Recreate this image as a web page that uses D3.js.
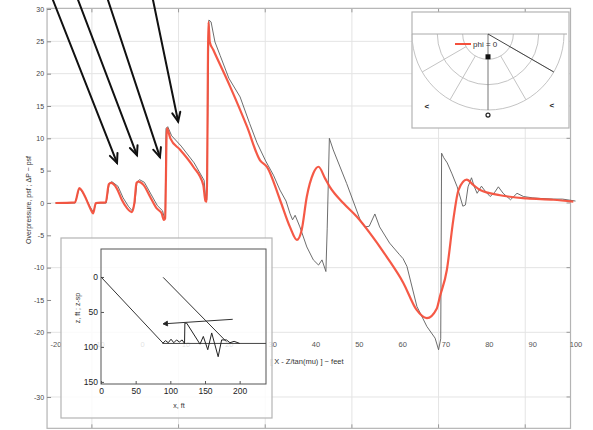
<!DOCTYPE html>
<html><head><meta charset="utf-8">
<script src="https://cdn.jsdelivr.net/npm/d3@7"></script>
<style>body{margin:0;background:#fff;} svg{display:block;font-family:"Liberation Sans",Arial,sans-serif;}</style>
</head><body><svg id="c" width="593" height="430"></svg>
<script>
// ---------------- data (main chart) ----------------
const redX = [-20,-15.5,-14.5,-13.2,-12.0,-11.3,-10.7,-8.4,-7.7,-7.2,-5.9,-4.7,-3.5,-2.4,-1.8,-1.3,-0.9,0.3,1.8,3.3,4.5,5.0,5.3,5.7,6.5,8.8,11.8,14.1,14.6,14.9,15.3,15.6,16.4,20.3,24.2,27.2,28.8,31.8,34.1,35.7,36.8,38.0,39.5,40.7,42.2,43.3,46.4,49.5,52.6,56.4,60.3,63.3,65.7,68.0,68.7,70.3,71.8,73.0,74.9,76.4,78.0,82.6,88.8,94.9,99.5];
const redY = [0,0.1,2.3,1.0,-0.8,-1.6,0,0.1,2.9,3.1,2.3,0.5,-0.8,-1.4,0,3.1,3.3,2.8,1.0,-0.8,-1.6,-2.6,-2.4,11.6,10.0,8.2,5.6,2.8,0.3,0.2,28.0,24.9,23.7,18.0,11.8,6.6,5.6,0.5,-3.7,-5.7,-4.2,1.0,4.6,5.6,3.8,2.5,0,-2.1,-4.7,-8.3,-12.4,-16.5,-17.8,-16.3,-14.5,-10.4,-2.6,2.0,3.6,2.8,2.0,1.2,0.7,0.5,0.2];

const greyX = [-20,-15.5,-14.5,-13.3,-12.1,-11.3,-10.6,-8.3,-7.6,-7.0,-5.6,-4.4,-3.2,-2.3,-1.7,-1.2,-0.6,0.5,2.0,3.5,4.7,5.0,5.3,5.5,5.9,6.8,9.0,12.0,14.3,14.6,14.9,15.4,15.9,16.8,18.0,20.0,22.6,24.8,26.5,28.5,30.3,31.8,33.2,34.1,34.7,35.3,36.4,38.0,39.5,40.7,41.5,42.4,42.7,43.2,44.1,47.2,50.3,51.4,52.4,53.7,54.8,57.1,59.4,60.2,61.1,63.4,65.7,67.6,68.4,68.9,69.1,69.6,70.4,71.5,72.7,74.0,74.6,75.2,76.0,76.6,77.3,78.3,79.2,80.3,81.3,82.2,83.3,85.0,86.5,88.0,90.0,92.0,95.0,97.0,100.0];
const greyY = [0,0,2.3,1.2,-0.5,-1.4,0,0,3.0,3.3,2.6,0.8,-0.5,-1.2,0,3.2,3.6,3.2,1.4,-0.4,-1.2,-2.0,-2.4,11.5,11.8,10.4,8.8,6.2,3.5,1.0,0.5,28.3,28.0,24.9,22.8,19.3,16.4,12.3,9.3,6.5,4.3,2.0,0.3,-1.6,-2.6,-1.9,-3.7,-6.8,-8.8,-9.6,-8.8,-10.6,-4.0,10.0,8.2,3.0,-2.6,-3.7,-3.6,-1.7,-3.7,-6.2,-8.0,-8.6,-9.8,-16.0,-19.1,-20.9,-22.7,-21.0,7.7,7.0,6.2,4.5,2.5,-0.5,-0.3,2.5,3.9,2.6,1.5,2.6,1.8,1.0,1.6,2.5,1.5,0.5,1.5,1.0,0.8,0.7,0.6,0.6,0.3];

const xTicks = [-20,-10,0,10,20,30,40,50,60,70,80,90,100];
const yTicks = [30,25,20,15,10,5,0,-5,-10,-15,-20,-30];
const gridX = [-11.6,8.4,28.4,48.4,68.4,88.4];
const gridY = [25,20,15,10,0,-10,-20,-30];
const frameX = [-21.95,98.85];
const frameY = [30.1,-34.85];

// annotation arrows (data units)
const arrowTailX = [-20.6,-14.8,-7.9,2.5];
const arrowTailY = [31.4,31.4,31.4,31.4];
const arrowTipX = [-5.8,-1.2,4.1,8.3];
const arrowTipY = [6.2,7.4,7.1,12.6];

// ---------------- data (lower-left inset) ----------------
const insetXTicks = [0,50,100,150,200];
const insetZTicks = [0,50,100,150];
const lineAX = [0,89.6], lineAZ = [0,94.7];
const lineBX = [89.6,180.8], lineBZ = [0.5,92.4];
const lineCX = [89.6,190], lineCZ = [67,60.5];
const baseX = [89,238], baseZ = [95,95];
const wigX = [89,93,97,101,105,109,113,117,120.5,121,123.6,142.8,147.6,154,159.7,169,174,181,186,192,200];
const wigZ = [95,91,94,89,94,90,93,90,95,66,66,96,85,104,80,114,90,90,94,92,95];

// ---------------- data (polar inset) ----------------
const rings = [1,2,3];
const spokes = [30,60,90,120,150];
const markAng = [90,90,130.3,48.4];
const markR = [0.9,3.2,3.73,3.8];
const markSym = ["square","circle","<","<"];

// ---------------- drawing ----------------
const svg = d3.select("#c");
const x = d3.scaleLinear().domain([-20,100]).range([55.5,575.5]);
const y = d3.scaleLinear().domain([30,-35]).range([9,429.3]);
const X0 = x(frameX[0]), X1 = x(frameX[1]), Y0 = y(frameY[0]), Y1 = y(frameY[1]);

const grid = svg.append("g");
grid.selectAll(".gx").data(gridX).join("line")
  .attr("x1", d=>x(d)).attr("x2", d=>x(d)).attr("y1", Y0).attr("y2", Y1)
  .attr("stroke", "#e4e4e4").attr("stroke-width", 1);
grid.selectAll(".gy").data(gridY).join("line")
  .attr("y1", d=>y(d)).attr("y2", d=>y(d)).attr("x1", X0).attr("x2", X1)
  .attr("stroke", "#e4e4e4").attr("stroke-width", 1);

// inward ticks on right, top, bottom
grid.selectAll(".tr").data([10,0,-10,-20,-30]).join("line")
  .attr("x1", X1).attr("x2", X1-4).attr("y1", d=>y(d)).attr("y2", d=>y(d)).attr("stroke","#999");
grid.selectAll(".tt").data(gridX).join("line")
  .attr("x1", d=>x(d)).attr("x2", d=>x(d)).attr("y1", Y0).attr("y2", Y0+4).attr("stroke","#999");
grid.selectAll(".tb").data(gridX).join("line")
  .attr("x1", d=>x(d)).attr("x2", d=>x(d)).attr("y1", Y1).attr("y2", Y1-4).attr("stroke","#999");

svg.append("rect").attr("x", X0).attr("y", Y0).attr("width", X1-X0).attr("height", Y1-Y0)
  .attr("fill","none").attr("stroke","#b4b4b4").attr("stroke-width",1.2);

// y axis
const ya = svg.append("g").attr("transform", `translate(${X0},0)`)
  .call(d3.axisLeft(y).tickValues(yTicks).tickSize(-4).tickPadding(3).tickFormat(d=>String(d)));
ya.select(".domain").remove();
ya.selectAll("line").attr("stroke","#888");
ya.selectAll("text").attr("font-size",7).attr("fill","#444");

// x axis labels (floating row)
const xa = svg.append("g").attr("transform", "translate(0,339)")
  .call(d3.axisBottom(x).tickValues(xTicks).tickSize(0).tickPadding(3).tickFormat(d=>String(d)));
xa.select(".domain").remove();
xa.selectAll("text").attr("font-size",7.5).attr("fill","#555");

svg.append("text").attr("x", 270).attr("y", 364).attr("font-size", 7.5).attr("fill","#333")
  .text("[ X - Z/tan(mu) ] ~ feet");
svg.append("text").attr("transform","translate(31,200) rotate(-90)").attr("text-anchor","middle")
  .attr("font-size",7).attr("fill","#333").text("Overpressure, psf ; ΔP ~ psf");

// series
const line = d3.line().x(d=>x(d[0])).y(d=>y(d[1]));
svg.append("path").datum(d3.zip(greyX, greyY)).attr("d", line)
  .attr("fill","none").attr("stroke","#5c5c5c").attr("stroke-width",0.9);
svg.append("path").datum(d3.zip(redX, redY)).attr("d", line.curve(d3.curveMonotoneX))
  .attr("fill","none").attr("stroke","#f4503c").attr("stroke-width",2.2).attr("stroke-linejoin","round").attr("opacity",0.95);

// arrows
const arr = svg.append("g").attr("stroke","#111").attr("stroke-width",2).attr("fill","none").attr("stroke-linecap","round");
d3.range(arrowTailX.length).forEach(i=>{
  const tx = x(arrowTailX[i]), ty = y(arrowTailY[i]), hx = x(arrowTipX[i]), hy = y(arrowTipY[i]);
  arr.append("line").attr("x1",tx).attr("y1",ty).attr("x2",hx).attr("y2",hy);
  const a = Math.atan2(hy-ty, hx-tx), L = 10, s = 0.42;
  arr.append("path").attr("d",
    `M${hx-L*Math.cos(a-s)},${hy-L*Math.sin(a-s)}L${hx},${hy}L${hx-L*Math.cos(a+s)},${hy-L*Math.sin(a+s)}`);
});

// ---------- lower-left inset ----------
const ins = svg.append("g");
ins.append("rect").attr("x",61).attr("y",238).attr("width",211).attr("height",180)
  .attr("fill","#fff").attr("fill-opacity",0.82).attr("stroke","#b4b4b4").attr("stroke-width",1.2);
const xi = d3.scaleLinear().domain([0,238]).range([101,266]);
const yi = d3.scaleLinear().domain([-40,153]).range([249,384]);
ins.append("rect").attr("x",xi(0)).attr("y",yi(-40)).attr("width",xi(238)-xi(0)).attr("height",yi(153)-yi(-40))
  .attr("fill","none").attr("stroke","#555").attr("stroke-width",1);
const iya = ins.append("g").attr("transform",`translate(${xi(0)},0)`)
  .call(d3.axisLeft(yi).tickValues(insetZTicks).tickSize(-3).tickPadding(3));
iya.select(".domain").remove();
iya.selectAll("text").attr("font-size",8.5).attr("fill","#222");
iya.selectAll("line").attr("stroke","#555");
const ixa = ins.append("g").attr("transform",`translate(0,${yi(153)})`)
  .call(d3.axisBottom(yi.copy().domain([0,238]).range([101,266])).tickValues(insetXTicks).tickSize(-3).tickPadding(4));
ixa.select(".domain").remove();
ixa.selectAll("text").attr("font-size",8.5).attr("fill","#222");
ixa.selectAll("line").attr("stroke","#555");
ins.append("text").attr("x",179).attr("y",408).attr("text-anchor","middle").attr("font-size",7).attr("fill","#333").text("x, ft");
ins.append("text").attr("transform","translate(80,308) rotate(-90)").attr("text-anchor","middle")
  .attr("font-size",7).attr("fill","#333").text("z, ft ;  z-sp");

const li = d3.line().x(d=>xi(d[0])).y(d=>yi(d[1]));
const ig = ins.append("g").attr("fill","none").attr("stroke","#333").attr("stroke-width",1);
ig.append("path").attr("d", li(d3.zip(lineAX,lineAZ)));
ig.append("path").attr("d", li(d3.zip(lineBX,lineBZ)));
ig.append("path").attr("d", li(d3.zip(baseX,baseZ))).attr("stroke","#444");
ig.append("path").attr("d", li(d3.zip(wigX,wigZ))).attr("stroke","#222");
ig.append("path").attr("d", li(d3.zip(lineCX,lineCZ)));
{
  const hx = xi(lineCX[0]), hy = yi(lineCZ[0]);
  const a = Math.atan2(yi(lineCZ[0])-yi(lineCZ[1]), xi(lineCX[0])-xi(lineCX[1]));
  const L = 5, s = 0.5;
  ig.append("path").attr("fill","#222").attr("d",
    `M${hx},${hy}L${hx-L*Math.cos(a-s)},${hy-L*Math.sin(a-s)}L${hx-L*Math.cos(a+s)},${hy-L*Math.sin(a+s)}Z`);
}

// ---------- polar inset ----------
const pol = svg.append("g");
pol.append("rect").attr("x",412).attr("y",12).attr("width",157).attr("height",116)
  .attr("fill","#fff").attr("stroke","#b4b4b4").attr("stroke-width",1.2);
const cx = 488, cy = 34;
const r = d3.scaleLinear().domain([0,3]).range([0,76]);
const pt = (ang, rr) => [cx + r(rr)*Math.cos(ang*Math.PI/180), cy + r(rr)*Math.sin(ang*Math.PI/180)];
pol.selectAll(".ring").data(rings).join("path")
  .attr("d", d=>`M${cx+r(d)},${cy}A${r(d)},${r(d)} 0 0 1 ${cx-r(d)},${cy}`)
  .attr("fill","none").attr("stroke","#c4c4c4").attr("stroke-width",1);
pol.append("line").attr("x1",cx-r(3)).attr("x2",cx+r(3)+3).attr("y1",cy).attr("y2",cy).attr("stroke","#aaa");
pol.selectAll(".spk").data(spokes).join("line")
  .attr("x1", d=>pt(d, d===90?0:1)[0]).attr("y1", d=>pt(d, d===90?0:1)[1])
  .attr("x2", d=>pt(d,3)[0]).attr("y2", d=>pt(d,3)[1])
  .attr("stroke", d=>d===90?"#777":"#c4c4c4").attr("stroke-width",1);
pol.append("line").attr("x1",cx).attr("y1",cy).attr("x2",pt(30,3)[0]).attr("y2",pt(30,3)[1])
  .attr("stroke","#444").attr("stroke-width",1);
markSym.forEach((s,i)=>{
  const [px,py] = pt(markAng[i], markR[i]);
  if (s==="square") pol.append("rect").attr("x",px-2.5).attr("y",py-2.5).attr("width",5).attr("height",5).attr("fill","#111");
  else if (s==="circle") pol.append("circle").attr("cx",px).attr("cy",py).attr("r",2).attr("fill","none").attr("stroke","#222").attr("stroke-width",1.2);
  else pol.append("text").attr("x",px).attr("y",py+2.5).attr("text-anchor","middle").attr("font-size",8).attr("font-weight","bold").attr("fill","#222").text(s);
});
pol.append("line").attr("x1",455).attr("x2",471).attr("y1",44).attr("y2",44).attr("stroke","#f4503c").attr("stroke-width",2);
pol.append("text").attr("x",473).attr("y",47).attr("font-size",8).attr("fill","#333").text("phi = 0");
</script></body></html>
